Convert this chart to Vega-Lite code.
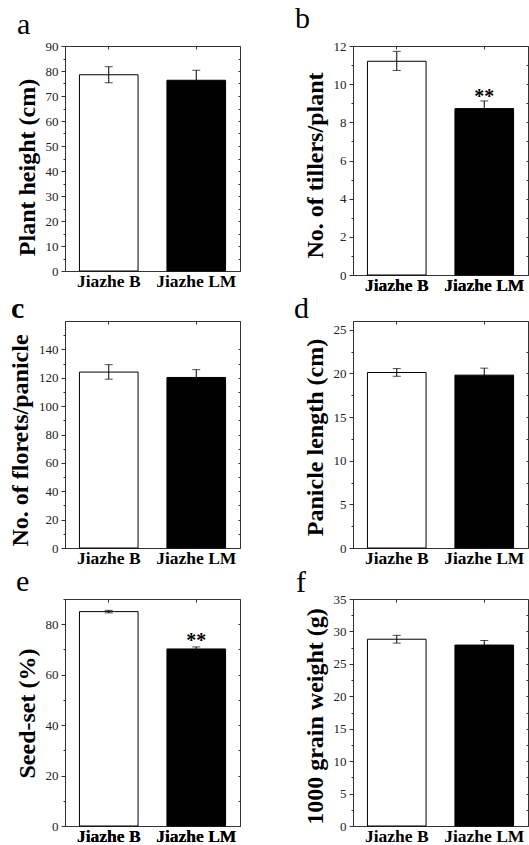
{
  "$schema": "https://vega.github.io/schema/vega-lite/v6.json",
  "padding": {"left": 8, "top": 3, "right": 0, "bottom": 0},
  "background": "white",
  "datasets": {
    "bars": [
      {"panel": "a", "genotype": "Jiazhe B", "mean": 78.5, "lo": 75.3, "hi": 81.7, "sig": ""},
      {"panel": "a", "genotype": "Jiazhe LM", "mean": 76.3, "lo": 72.3, "hi": 80.3, "sig": ""},
      {"panel": "b", "genotype": "Jiazhe B", "mean": 11.2, "lo": 10.72, "hi": 11.72, "sig": ""},
      {"panel": "b", "genotype": "Jiazhe LM", "mean": 8.72, "lo": 8.32, "hi": 9.12, "sig": "**"},
      {"panel": "c", "genotype": "Jiazhe B", "mean": 124, "lo": 119, "hi": 129.2, "sig": ""},
      {"panel": "c", "genotype": "Jiazhe LM", "mean": 120.2, "lo": 114.7, "hi": 125.7, "sig": ""},
      {"panel": "d", "genotype": "Jiazhe B", "mean": 20.1, "lo": 19.67, "hi": 20.55, "sig": ""},
      {"panel": "d", "genotype": "Jiazhe LM", "mean": 19.8, "lo": 19.0, "hi": 20.6, "sig": ""},
      {"panel": "e", "genotype": "Jiazhe B", "mean": 85.0, "lo": 84.5, "hi": 85.5, "sig": ""},
      {"panel": "e", "genotype": "Jiazhe LM", "mean": 70.2, "lo": 69.4, "hi": 71.0, "sig": "**"},
      {"panel": "f", "genotype": "Jiazhe B", "mean": 28.8, "lo": 28.2, "hi": 29.4, "sig": ""},
      {"panel": "f", "genotype": "Jiazhe LM", "mean": 27.9, "lo": 27.2, "hi": 28.6, "sig": ""}
    ]
  },
  "config": {
    "font": "Liberation Serif",
    "view": {"stroke": "#333", "strokeWidth": 1},
    "axis": {
      "grid": false,
      "domainColor": "#333",
      "tickColor": "#333",
      "labelFont": "Liberation Serif",
      "titleFont": "Liberation Serif",
      "labelColor": "#222",
      "titleColor": "black"
    },
    "axisY": {"labelFontSize": 13, "tickSize": 4, "labelPadding": 3, "titleFontSize": 24, "titleFontWeight": "bold", "titlePadding": 6},
    "axisX": {"labelFontSize": 17.5, "labelFontWeight": "bold", "labelColor": "black", "labelAngle": 0, "tickSize": 0, "labelPadding": 1, "title": null},
    "title": {"font": "Liberation Serif", "fontSize": 30, "fontWeight": "normal", "anchor": "start", "frame": "group", "color": "black"}
  },
  "columns": 2,
  "align": "each",
  "spacing": {"row": -1, "column": 52},
  "concat": [
    {
      "width": 175, "height": 225,
      "title": {"text": "a", "dx": -48, "offset": 0},
      "data": {"name": "bars"},
      "transform": [{"filter": "datum.panel === 'a'"}],
      "encoding": {"x": {"field": "genotype", "type": "nominal", "sort": null, "scale": {"paddingInner": 0.33, "paddingOuter": 0.165}}},
      "resolve": {"axis": {"x": "independent", "y": "independent"}},
      "layer": [
        {"mark": {"type": "bar", "stroke": "black", "strokeWidth": 1},
         "encoding": {"y": {"field": "mean", "type": "quantitative", "scale": {"domain": [0, 90]}, "axis": {"title": "Plant height (cm)", "titleY": 121, "values": [0, 5, 10, 15, 20, 25, 30, 35, 40, 45, 50, 55, 60, 65, 70, 75, 80, 85, 90], "labelExpr": "datum.value % 10 === 0 ? datum.label : ''", "tickSize": {"condition": {"test": "datum.value % 10 === 0", "value": 4}, "value": 2}}},
                      "fill": {"field": "genotype", "type": "nominal", "sort": null, "scale": {"range": ["white", "black"]}, "legend": null}}},
        {"mark": {"type": "errorbar", "color": "black", "ticks": {"size": 8}},
         "encoding": {"x": {"field": "genotype", "type": "nominal", "sort": null, "axis": {"orient": "top", "labels": false, "tickSize": -3, "domain": false}},
                      "y": {"field": "lo", "type": "quantitative", "axis": {"orient": "right", "labels": false, "title": null, "tickSize": -2, "values": [5, 10, 15, 20, 25, 30, 35, 40, 45, 50, 55, 60, 65, 70, 75, 80, 85]}}, "y2": {"field": "hi"}}}
      ]
    },
    {
      "width": 175, "height": 229,
      "title": {"text": "b", "dx": -58, "offset": 3},
      "data": {"name": "bars"},
      "transform": [{"filter": "datum.panel === 'b'"}],
      "encoding": {"x": {"field": "genotype", "type": "nominal", "sort": null, "scale": {"paddingInner": 0.33, "paddingOuter": 0.165}}},
      "resolve": {"axis": {"x": "independent", "y": "independent"}},
      "layer": [
        {"mark": {"type": "bar", "stroke": "black", "strokeWidth": 1},
         "encoding": {"y": {"field": "mean", "type": "quantitative", "scale": {"domain": [0, 12]}, "axis": {"title": "No. of tillers/plant", "titleY": 119, "values": [0, 1, 2, 3, 4, 5, 6, 7, 8, 9, 10, 11, 12], "labelExpr": "datum.value % 2 === 0 ? datum.label : ''", "tickSize": {"condition": {"test": "datum.value % 2 === 0", "value": 4}, "value": 2}}},
                      "fill": {"field": "genotype", "type": "nominal", "sort": null, "scale": {"range": ["white", "black"]}, "legend": null}}},
        {"mark": {"type": "errorbar", "color": "black", "ticks": {"size": 8}},
         "encoding": {"x": {"field": "genotype", "type": "nominal", "sort": null, "axis": {"orient": "top", "labels": false, "tickSize": -3, "domain": false}},
                      "y": {"field": "lo", "type": "quantitative", "axis": {"orient": "right", "labels": false, "title": null, "tickSize": -2, "values": [1, 2, 3, 4, 5, 6, 7, 8, 9, 10, 11]}}, "y2": {"field": "hi"}}},
        {"mark": {"type": "text", "font": "Liberation Serif", "fontSize": 20, "fontWeight": "bold", "baseline": "alphabetic", "dy": 2},
         "encoding": {"y": {"field": "hi", "type": "quantitative", "axis": null}, "text": {"field": "sig"}}}
      ]
    },
    {
      "width": 175, "height": 227,
      "title": {"text": "c", "dx": -54, "offset": -3, "fontWeight": "bold"},
      "data": {"name": "bars"},
      "transform": [{"filter": "datum.panel === 'c'"}],
      "encoding": {"x": {"field": "genotype", "type": "nominal", "sort": null, "scale": {"paddingInner": 0.33, "paddingOuter": 0.165}}},
      "resolve": {"axis": {"x": "independent", "y": "independent"}},
      "layer": [
        {"mark": {"type": "bar", "stroke": "black", "strokeWidth": 1},
         "encoding": {"y": {"field": "mean", "type": "quantitative", "scale": {"domain": [0, 150]}, "axis": {"title": "No. of florets/panicle", "titleY": 119, "values": [0, 10, 20, 30, 40, 50, 60, 70, 80, 90, 100, 110, 120, 130, 140, 150], "labelExpr": "datum.value % 20 === 0 ? datum.label : ''", "tickSize": {"condition": {"test": "datum.value % 20 === 0", "value": 4}, "value": 2}}},
                      "fill": {"field": "genotype", "type": "nominal", "sort": null, "scale": {"range": ["white", "black"]}, "legend": null}}},
        {"mark": {"type": "errorbar", "color": "black", "ticks": {"size": 8}},
         "encoding": {"x": {"field": "genotype", "type": "nominal", "sort": null, "axis": {"orient": "top", "labels": false, "tickSize": -3, "domain": false}},
                      "y": {"field": "lo", "type": "quantitative", "axis": {"orient": "right", "labels": false, "title": null, "tickSize": -2, "values": [10, 20, 30, 40, 50, 60, 70, 80, 90, 100, 110, 120, 130, 140]}}, "y2": {"field": "hi"}}}
      ]
    },
    {
      "width": 175, "height": 227,
      "title": {"text": "d", "dx": -59, "offset": -3},
      "data": {"name": "bars"},
      "transform": [{"filter": "datum.panel === 'd'"}],
      "encoding": {"x": {"field": "genotype", "type": "nominal", "sort": null, "scale": {"paddingInner": 0.33, "paddingOuter": 0.165}}},
      "resolve": {"axis": {"x": "independent", "y": "independent"}},
      "layer": [
        {"mark": {"type": "bar", "stroke": "black", "strokeWidth": 1},
         "encoding": {"y": {"field": "mean", "type": "quantitative", "scale": {"domain": [0, 25]}, "axis": {"title": "Panicle length (cm)", "titleY": 116, "values": [0, 2.5, 5, 7.5, 10, 12.5, 15, 17.5, 20, 22.5, 25], "labelExpr": "datum.value % 5 === 0 ? datum.label : ''", "tickSize": {"condition": {"test": "datum.value % 5 === 0", "value": 4}, "value": 2}}},
                      "fill": {"field": "genotype", "type": "nominal", "sort": null, "scale": {"range": ["white", "black"]}, "legend": null}}},
        {"mark": {"type": "errorbar", "color": "black", "ticks": {"size": 8}},
         "encoding": {"x": {"field": "genotype", "type": "nominal", "sort": null, "axis": {"orient": "top", "labels": false, "tickSize": -3, "domain": false}},
                      "y": {"field": "lo", "type": "quantitative", "axis": {"orient": "right", "labels": false, "title": null, "tickSize": -2, "values": [2.5, 5, 7.5, 10, 12.5, 15, 17.5, 20, 22.5]}}, "y2": {"field": "hi"}}}
      ]
    },
    {
      "width": 175, "height": 227,
      "title": {"text": "e", "dx": -49, "offset": -3},
      "data": {"name": "bars"},
      "transform": [{"filter": "datum.panel === 'e'"}],
      "encoding": {"x": {"field": "genotype", "type": "nominal", "sort": null, "scale": {"paddingInner": 0.33, "paddingOuter": 0.165}}},
      "resolve": {"axis": {"x": "independent", "y": "independent"}},
      "layer": [
        {"mark": {"type": "bar", "stroke": "black", "strokeWidth": 1},
         "encoding": {"y": {"field": "mean", "type": "quantitative", "scale": {"domain": [0, 90]}, "axis": {"title": "Seed-set (%)", "titleY": 114, "values": [0, 10, 20, 30, 40, 50, 60, 70, 80, 90], "labelExpr": "datum.value % 20 === 0 ? datum.label : ''", "tickSize": {"condition": {"test": "datum.value % 20 === 0", "value": 4}, "value": 2}}},
                      "fill": {"field": "genotype", "type": "nominal", "sort": null, "scale": {"range": ["white", "black"]}, "legend": null}}},
        {"mark": {"type": "errorbar", "color": "black", "ticks": {"size": 8}},
         "encoding": {"x": {"field": "genotype", "type": "nominal", "sort": null, "axis": {"orient": "top", "labels": false, "tickSize": -3, "domain": false}},
                      "y": {"field": "lo", "type": "quantitative", "axis": {"orient": "right", "labels": false, "title": null, "tickSize": -2, "values": [10, 20, 30, 40, 50, 60, 70, 80]}}, "y2": {"field": "hi"}}},
        {"mark": {"type": "text", "font": "Liberation Serif", "fontSize": 20, "fontWeight": "bold", "baseline": "alphabetic", "dy": 0},
         "encoding": {"y": {"field": "hi", "type": "quantitative", "axis": null}, "text": {"field": "sig"}}}
      ]
    },
    {
      "width": 175, "height": 227,
      "title": {"text": "f", "dx": -57, "offset": -5},
      "data": {"name": "bars"},
      "transform": [{"filter": "datum.panel === 'f'"}],
      "encoding": {"x": {"field": "genotype", "type": "nominal", "sort": null, "scale": {"paddingInner": 0.33, "paddingOuter": 0.165}}},
      "resolve": {"axis": {"x": "independent", "y": "independent"}},
      "layer": [
        {"mark": {"type": "bar", "stroke": "black", "strokeWidth": 1},
         "encoding": {"y": {"field": "mean", "type": "quantitative", "scale": {"domain": [0, 35]}, "axis": {"title": "1000 grain weight (g)", "titleY": 117, "values": [0, 2.5, 5, 7.5, 10, 12.5, 15, 17.5, 20, 22.5, 25, 27.5, 30, 32.5, 35], "labelExpr": "datum.value % 5 === 0 ? datum.label : ''", "tickSize": {"condition": {"test": "datum.value % 5 === 0", "value": 4}, "value": 2}}},
                      "fill": {"field": "genotype", "type": "nominal", "sort": null, "scale": {"range": ["white", "black"]}, "legend": null}}},
        {"mark": {"type": "errorbar", "color": "black", "ticks": {"size": 8}},
         "encoding": {"x": {"field": "genotype", "type": "nominal", "sort": null, "axis": {"orient": "top", "labels": false, "tickSize": -3, "domain": false}},
                      "y": {"field": "lo", "type": "quantitative", "axis": {"orient": "right", "labels": false, "title": null, "tickSize": -2, "values": [2.5, 5, 7.5, 10, 12.5, 15, 17.5, 20, 22.5, 25, 27.5, 30, 32.5]}}, "y2": {"field": "hi"}}}
      ]
    }
  ]
}
